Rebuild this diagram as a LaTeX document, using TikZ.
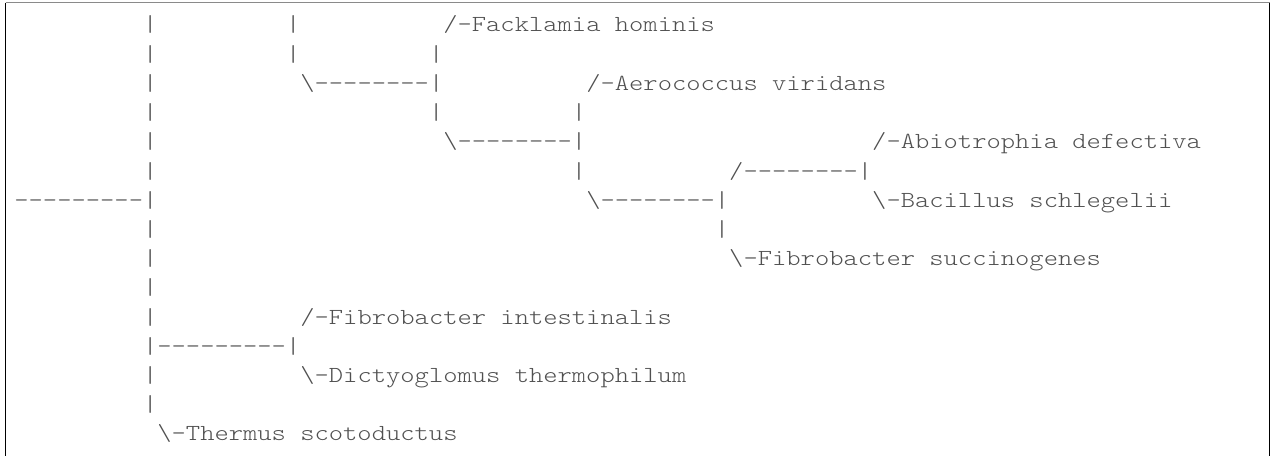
\documentclass[tikz,border=0pt]{standalone}
\usepackage{fontspec}
\setmonofont{lmmonolt10-regular}[Extension=.otf, FakeStretch=1.184]
\usepackage{xcolor}
\definecolor{ink}{HTML}{505050}
\definecolor{rim}{HTML}{8A8A8A}
\newlength\chw
\newcommand\treefont{\ttfamily\fontsize{11.5pt}{14.6pt}\selectfont}
\newcommand\gap[1]{\hspace*{#1\chw}}
\newcommand\bs{\textbackslash}
\AtBeginDocument{\settowidth\chw{\treefont x}}

\begin{document}
\begin{tikzpicture}[x=0.5pt,y=-0.5pt,
  treeline/.style={anchor=base west, inner sep=0pt, text=ink, font=\treefont}]
  \useasboundingbox (0,0) rectangle (1272,455);
  % frame, bottom edge falls outside the page
  \draw[rim, line width=0.75pt] (5.5,2.5) -- (1269.5,2.5);
  \draw[black, line width=0.75pt] (5.5,2.5) -- (5.5,470);
  \draw[black, line width=0.75pt] (1269.5,2.5) -- (1269.5,470);
  % one node per printed line
  \node[treeline] (l0)  at (14,32.0)  {\gap{9}|\gap{9}|\gap{10}/-Facklamia hominis};
  \node[treeline] (l1)  at (14,61.2)  {\gap{9}|\gap{9}|\gap{9}|};
  \node[treeline] (l2)  at (14,90.4)  {\gap{9}|\gap{10}\bs--------|\gap{10}/-Aerococcus viridans};
  \node[treeline] (l3)  at (14,119.6) {\gap{9}|\gap{19}|\gap{9}|};
  \node[treeline] (l4)  at (14,148.8) {\gap{9}|\gap{20}\bs--------|\gap{20}/-Abiotrophia defectiva};
  \node[treeline] (l5)  at (14,178.0) {\gap{9}|\gap{29}|\gap{10}/--------|};
  \node[treeline] (l6)  at (14,207.2) {---------|\gap{30}\bs--------|\gap{10}\bs-Bacillus schlegelii};
  \node[treeline] (l7)  at (14,236.4) {\gap{9}|\gap{39}|};
  \node[treeline] (l8)  at (14,265.6) {\gap{9}|\gap{40}\bs-Fibrobacter succinogenes};
  \node[treeline] (l9)  at (14,294.8) {\gap{9}|};
  \node[treeline] (l10) at (14,324.0) {\gap{9}|\gap{10}/-Fibrobacter intestinalis};
  \node[treeline] (l11) at (14,353.2) {\gap{9}|---------|};
  \node[treeline] (l12) at (14,382.4) {\gap{9}|\gap{10}\bs-Dictyoglomus thermophilum};
  \node[treeline] (l13) at (14,411.6) {\gap{9}|};
  \node[treeline] (l14) at (14,440.8) {\gap{10}\bs-Thermus scotoductus};
\end{tikzpicture}
\end{document}
